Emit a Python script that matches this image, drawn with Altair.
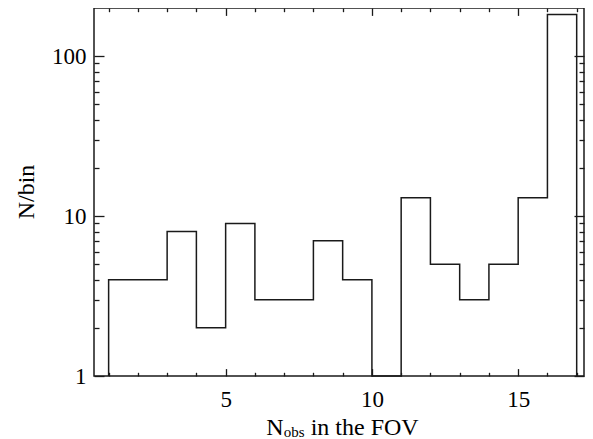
import altair as alt
import pandas as pd

# ---- data ----
bin_edges = list(range(1, 18))          # 1 .. 17
counts = [4, 4, 8, 2, 9, 3, 3, 7, 4, 0, 13, 5, 3, 5, 13, 182]
x_major = [5, 10, 15]
x_minor = [1, 2, 3, 4, 6, 7, 8, 9, 11, 12, 13, 14, 16, 17]
y_major = [1, 10, 100]
y_minor = [2, 3, 4, 5, 6, 7, 8, 9, 20, 30, 40, 50, 60, 70, 80, 90]
x_domain = [0.5, 17.25]
y_domain = [1, 200]
y_title = "N/bin"
x_title_parts = ["N", "obs", "in the FOV"]

# outline of the histogram (step-after), zero bins drawn on the floor
floor = y_domain[0]
xs = [bin_edges[0]] + bin_edges[:-1] + [bin_edges[-1]]
ys = [floor] + [c if c > 0 else floor for c in counts] + [floor]
df = pd.DataFrame({"i": list(range(len(xs))), "x": xs, "n": ys})

W, H = 490, 368
FONT = "Liberation Serif"
INK = "#1a1a1a"
XT, YT = 7.4, 10  # major tick lengths (minor = half)

xs_scale = alt.Scale(domain=x_domain, nice=False, zero=False)
ys_scale = alt.Scale(type="log", domain=y_domain, nice=False)


def axis_layer(x_axis, y_axis, visible=False):
    base = alt.Chart(df).mark_line(
        interpolate="step-after",
        color=INK,
        strokeWidth=1.5,
        opacity=1 if visible else 0,
    )
    return base.encode(
        x=alt.X("x:Q", scale=xs_scale, axis=x_axis),
        y=alt.Y("n:Q", scale=ys_scale, axis=y_axis),
        order=alt.Order("i:Q"),
    )


common = dict(grid=False, domain=False, title=None, tickColor=INK, tickWidth=1.3)

main = axis_layer(
    alt.Axis(orient="bottom", values=x_major, tickSize=XT, offset=-XT,
             labelPadding=30, labelBaseline="alphabetic", labelFont=FONT,
             labelFontSize=23, labelColor="black", labelFlush=False, **common),
    alt.Axis(orient="left", values=y_major, tickSize=YT, offset=-YT,
             labelPadding=8, labelFont=FONT, labelFontSize=23, labelColor="black",
             labelFlush=True, labelBaseline="middle", **common),
    visible=True,
)
minor_bl = axis_layer(
    alt.Axis(orient="bottom", values=x_minor, tickSize=XT / 2, offset=-XT / 2,
             labels=False, **common),
    alt.Axis(orient="left", values=y_minor, tickSize=YT / 2, offset=-YT / 2,
             labels=False, **common),
)
major_tr = axis_layer(
    alt.Axis(orient="top", values=x_major, tickSize=XT, offset=-XT,
             labels=False, **common),
    alt.Axis(orient="right", values=y_major, tickSize=YT, offset=-YT,
             labels=False, **common),
)
minor_tr = axis_layer(
    alt.Axis(orient="top", values=x_minor, tickSize=XT / 2, offset=-XT / 2,
             labels=False, **common),
    alt.Axis(orient="right", values=y_minor, tickSize=YT / 2, offset=-YT / 2,
             labels=False, **common),
)

one = pd.DataFrame({"k": [0]})

ytitle = alt.Chart(one).mark_text(
    text=y_title, font=FONT, fontSize=24, color="black", angle=270,
    align="center", baseline="alphabetic",
).encode(x=alt.value(-60.5), y=alt.value(H / 2))

xt_n = alt.Chart(one).mark_text(
    text=x_title_parts[0], font=FONT, fontSize=24, color="black",
    align="right", baseline="alphabetic",
).encode(x=alt.value(189.5), y=alt.value(426.5))
xt_sub = alt.Chart(one).mark_text(
    text=x_title_parts[1], font=FONT, fontSize=15, color="black",
    align="left", baseline="alphabetic",
).encode(x=alt.value(189.8), y=alt.value(428.5))
xt_rest = alt.Chart(one).mark_text(
    text=x_title_parts[2], font=FONT, fontSize=24, color="black",
    align="left", baseline="alphabetic",
).encode(x=alt.value(216.7), y=alt.value(426.5))

chart = (
    alt.layer(main, minor_bl, major_tr, minor_tr, ytitle, xt_n, xt_sub, xt_rest)
    .resolve_axis(x="independent", y="independent")
    .properties(
        width=W,
        height=H,
        autosize=alt.AutoSizeParams(type="none"),
        padding={"left": 86, "top": 0, "right": 1, "bottom": 66},
        background="white",
    )
    .configure_view(stroke=INK, strokeWidth=1.5)
)

chart.save("out.html", embed_options={"renderer": "svg", "actions": False})
